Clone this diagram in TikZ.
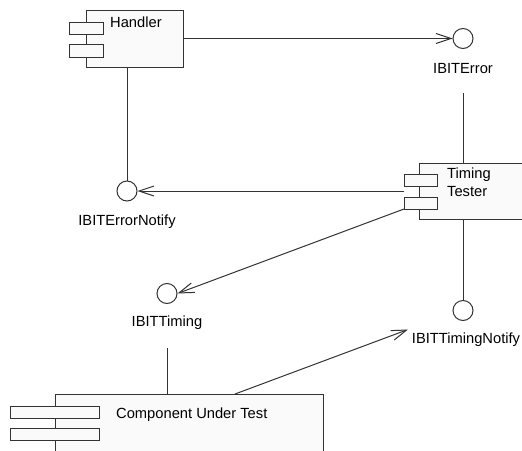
\documentclass[tikz,border=0pt]{standalone}
\usepackage{fontspec}
\setmainfont{Liberation Sans}
\usetikzlibrary{arrows.meta}
\tikzset{
  ln/.style={draw=black!80, line width=1pt},
  compbox/.style={ln, fill=black!2, rectangle, inner sep=0pt, anchor=north west},
  tab/.style={ln, fill=black!2, rectangle, inner sep=0pt, anchor=north west},
  iface/.style={ln, fill=white, circle, minimum size=20pt, inner sep=0pt},
  lbl/.style={font=\fontsize{14.7}{17.6}\selectfont, inner sep=0pt, text=black},
  conn/.style={ln},
  dep/.style={ln, -{Straight Barb[length=15pt,width=10pt,line width=1pt]}},
}
\begin{document}
\begin{tikzpicture}[x=1pt,y=-1pt]
\useasboundingbox (0,0) rectangle (522,450);
\clip (0,0) rectangle (522,450);
% Handler
\node[compbox, minimum width=97pt, minimum height=57pt] (h) at (86,10) {};
\node[tab, minimum width=34pt, minimum height=12pt] (h1) at (69,22) {};
\node[tab, minimum width=34pt, minimum height=13pt] (h2) at (69,43.5) {};
\node[lbl, anchor=west] (hl) at (110,22) {Handler};
% Timing Tester
\node[compbox, minimum width=121pt, minimum height=56pt] (t) at (419,163) {};
\node[tab, minimum width=33pt, minimum height=12pt] (t1) at (404,173.5) {};
\node[tab, minimum width=33pt, minimum height=12.5pt] (t2) at (404,196.5) {};
\node[lbl, anchor=west, align=left] (tl) at (447,182) {Timing\\Tester};
% Component Under Test
\node[compbox, minimum width=268pt, minimum height=80pt] (c) at (55,394) {};
\node[tab, minimum width=89pt, minimum height=12pt] (c1) at (10,406) {};
\node[tab, minimum width=89pt, minimum height=11.5pt] (c2) at (10,428) {};
\node[lbl, anchor=west] (cl) at (116,415) {Component Under Test};
% Interfaces
\node[iface] (e) at (463,38.5) {};
\node[lbl] (el) at (463,69) {IBITError};
\node[iface] (en) at (127,191) {};
\node[lbl] (enl) at (127,222) {IBITErrorNotify};
\node[iface] (ti) at (167,293.5) {};
\node[lbl] (til) at (167,323) {IBITTiming};
\node[iface] (tn) at (463,310.5) {};
\node[lbl] (tnl) at (466,340) {IBITTimingNotify};
% helper coordinates
\coordinate (hR) at (183,38.5);
\coordinate (hB) at (127,67);
\coordinate (eB) at (463,93);
\coordinate (tT) at (463,163);
\coordinate (tB) at (463,219);
\coordinate (tL1) at (404,191);
\coordinate (tL2) at (404,209);
\coordinate (tiB) at (167,348);
\coordinate (cT1) at (167,394);
\coordinate (cT2) at (235,394);
\coordinate (tnA) at (408,329.5);
% connectors
\draw[dep] (hR) -- (e.west);
\draw[conn] (hB) -- (en.north);
\draw[conn] (eB) -- (tT);
\draw[dep] (tL1) -- (en.east);
\draw[dep] (tL2) -- (ti.east);
\draw[conn] (tB) -- (tn.north);
\draw[conn] (tiB) -- (cT1);
\draw[dep] (cT2) -- (tnA);
\end{tikzpicture}
\end{document}
